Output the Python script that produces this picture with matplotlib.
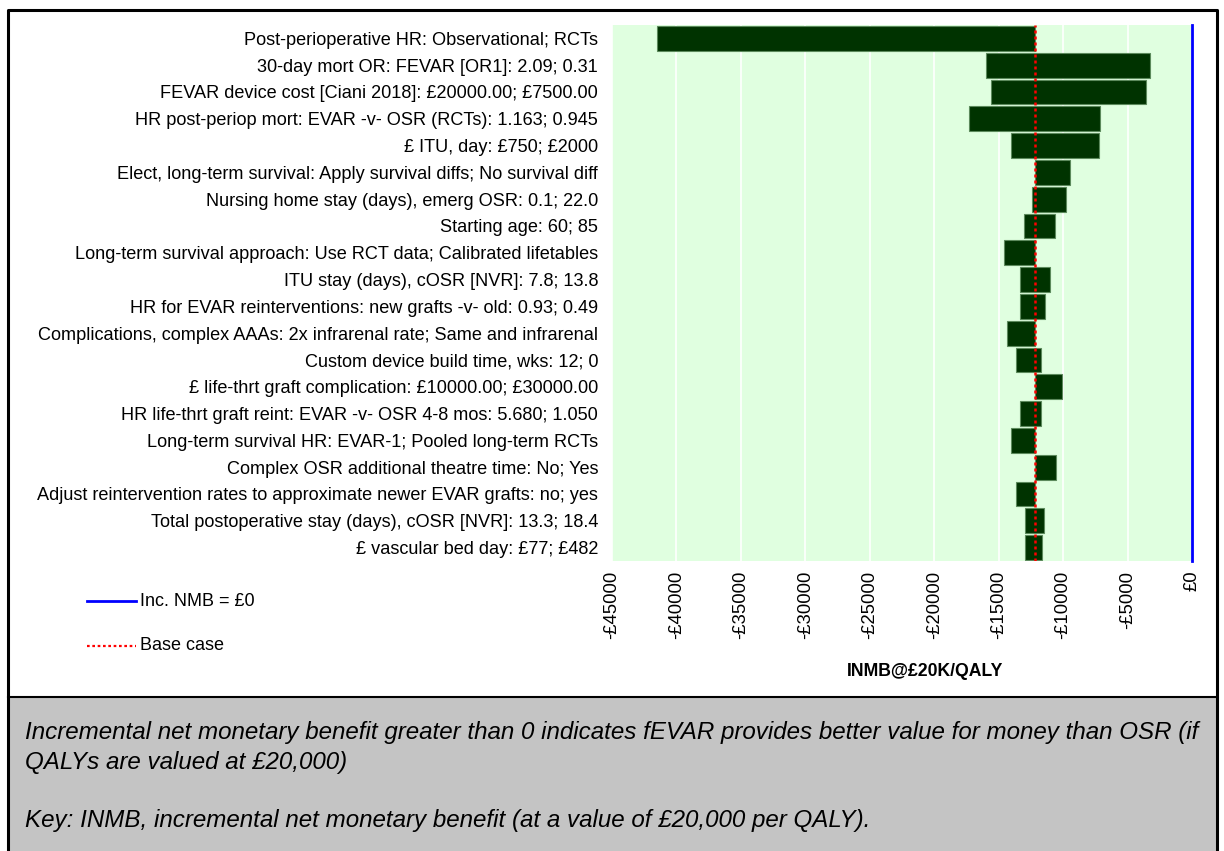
import matplotlib
matplotlib.use("Agg")
import matplotlib.pyplot as plt
from matplotlib.lines import Line2D
from matplotlib.patches import Rectangle

plt.rcParams['font.family'] = ['Liberation Sans', 'DejaVu Sans']

# Tornado chart data: parameter label, INMB at each end of the range
parametros = [
    "Post-perioperative HR: Observational; RCTs",
    "30-day mort OR: FEVAR [OR1]: 2.09; 0.31",
    "FEVAR device cost [Ciani 2018]: £20000.00; £7500.00",
    "HR post-periop mort: EVAR -v- OSR (RCTs): 1.163; 0.945",
    "£ ITU, day: £750; £2000",
    "Elect, long-term survival: Apply survival diffs; No survival diff",
    "Nursing home stay (days), emerg OSR: 0.1; 22.0",
    "Starting age: 60; 85",
    "Long-term survival approach: Use RCT data; Calibrated lifetables",
    "ITU stay (days), cOSR [NVR]: 7.8; 13.8",
    "HR for EVAR reinterventions: new grafts -v- old: 0.93; 0.49",
    "Complications, complex AAAs: 2x infrarenal rate; Same and infrarenal",
    "Custom device build time, wks: 12; 0",
    "£ life-thrt graft complication: £10000.00; £30000.00",
    "HR life-thrt graft reint: EVAR -v- OSR 4-8 mos: 5.680; 1.050",
    "Long-term survival HR: EVAR-1; Pooled long-term RCTs",
    "Complex OSR additional theatre time: No; Yes",
    "Adjust reintervention rates to approximate newer EVAR grafts: no; yes",
    "Total postoperative stay (days), cOSR [NVR]: 13.3; 18.4",
    "£ vascular bed day: £77; £482",
]

caso_base = -12200

valor_baixo = [-41470, -16010, -15610, -17330, -14020, -12200, -12390, -13070, -14570, -13370,
               -13370, -14330, -13680, -12200, -13370, -14020, -12200, -13680, -12950, -12950]
valor_alto = [-12200, -3280, -3590, -7120, -7210, -9450, -9750, -10610, -12200, -11040,
              -11380, -12200, -11690, -10120, -11690, -12200, -10520, -12200, -11500, -11600]

ticks_x = list(range(-45000, 1, 5000))
rotulos_x = ["-£%d" % abs(t) if t < 0 else "£0" for t in ticks_x]

W, H = 1224, 851
fig = plt.figure(figsize=(W / 100, H / 100), dpi=100)

# Area do grafico em pixels: x 612..1192, y 25..561
ax = fig.add_axes([612 / W, 1 - 561 / H, 580 / W, 536 / H])
ax.set_facecolor('#e0ffe0')

n = len(parametros)
posicoes = list(range(n))
esquerda = [min(a, b) for a, b in zip(valor_baixo, valor_alto)]
larguras = [abs(b - a) for a, b in zip(valor_baixo, valor_alto)]

ax.barh(posicoes, larguras, left=esquerda, height=0.93, color='#003300',
        edgecolor='#5c8a5c', linewidth=0.8, zorder=3)

for t in ticks_x:
    ax.axvline(t, color='white', linewidth=1.2, zorder=1)

ax.axvline(0, color='#0000ff', linewidth=2, zorder=4, clip_on=False)
ax.axvline(caso_base, color='#ff0000', linewidth=1.8, linestyle=(0, (1.2, 1.2)), zorder=5)

ax.set_xlim(-45000, 0)
ax.set_ylim(n - 0.5, -0.5)
ax.set_yticks(posicoes)
ax.set_yticklabels(parametros, fontsize=13.1)
ax.set_xticks(ticks_x)
ax.set_xticklabels(rotulos_x, rotation=90, fontsize=13.3)
ax.tick_params(axis='x', length=0, pad=7)
ax.tick_params(axis='y', length=0, pad=10)
for lado in ax.spines.values():
    lado.set_visible(False)

fig.text(925 / W, 1 - 671 / H, "INMB@£20K/QALY", fontsize=12.7, fontweight='bold',
         ha='center', va='center')

# Legenda desenhada a mao
fig.add_artist(Line2D([87 / W, 136 / W], [1 - 601 / H] * 2, color='#0000ff', linewidth=2))
fig.text(140 / W, 1 - 601 / H, "Inc. NMB = £0", fontsize=13, va='center')
fig.add_artist(Line2D([87 / W, 136 / W], [1 - 646 / H] * 2, color='#ff0000', linewidth=1.6,
                      linestyle=(0, (1.2, 1.2))))
fig.text(140 / W, 1 - 646 / H, "Base case", fontsize=13, va='center')

# Caixa de notas (cinza) e moldura
fig.add_artist(Rectangle((8 / W, 0), 1209 / W, 1 - 697 / H, transform=fig.transFigure,
                         facecolor='#c4c4c4', edgecolor='none', zorder=0))
fig.add_artist(Line2D([8 / W, 1217 / W], [1 - 697 / H] * 2, color='black', linewidth=1.5))
fig.add_artist(Line2D([8 / W, 8 / W, 1217 / W, 1217 / W], [0, 1 - 10 / H, 1 - 10 / H, 0],
                      color='black', linewidth=2.2))

notas = [
    (733, "Incremental net monetary benefit greater than 0 indicates fEVAR provides better value for money than OSR (if"),
    (762, "QALYs are valued at £20,000)"),
    (820, "Key: INMB, incremental net monetary benefit (at a value of £20,000 per QALY)."),
]
for y, txt in notas:
    fig.text(25 / W, 1 - y / H, txt, fontsize=17.4, style='italic', va='center')

fig.savefig("out.png", dpi=100)
